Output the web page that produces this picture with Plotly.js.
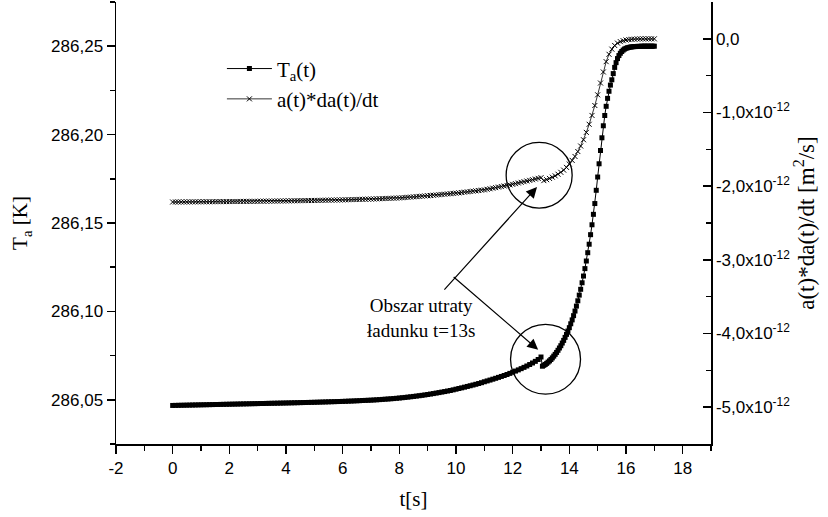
<!DOCTYPE html>
<html>
<head>
<meta charset="utf-8">
<script src="https://cdn.plot.ly/plotly-3.0.1.min.js"></script>
<style>html,body{margin:0;padding:0;background:#fff;}#chart{width:828px;height:517px;}</style>
</head>
<body>
<div id="chart"></div>
<script>
// time samples 0..13 s (step 0.1)
const tEarly = [0,0.1,0.2,0.3,0.4,0.5,0.6,0.7,0.8,0.9,
1,1.1,1.2,1.3,1.4,1.5,1.6,1.7,1.8,1.9,
2,2.1,2.2,2.3,2.4,2.5,2.6,2.7,2.8,2.9,
3,3.1,3.2,3.3,3.4,3.5,3.6,3.7,3.8,3.9,
4,4.1,4.2,4.3,4.4,4.5,4.6,4.7,4.8,4.9,
5,5.1,5.2,5.3,5.4,5.5,5.6,5.7,5.8,5.9,
6,6.1,6.2,6.3,6.4,6.5,6.6,6.7,6.8,6.9,
7,7.1,7.2,7.3,7.4,7.5,7.6,7.7,7.8,7.9,
8,8.1,8.2,8.3,8.4,8.5,8.6,8.7,8.8,8.9,
9,9.1,9.2,9.3,9.4,9.5,9.6,9.7,9.8,9.9,
10,10.1,10.2,10.3,10.4,10.5,10.6,10.7,10.8,10.9,
11,11.1,11.2,11.3,11.4,11.5,11.6,11.7,11.8,11.9,
12,12.1,12.2,12.3,12.4,12.5,12.6,12.7,12.8,12.9,
13];

// T_a late samples 13.05..17 s (step 0.05)
const tLateTa = [13.05,13.1,13.15,13.2,13.25,13.3,13.35,13.4,13.45,13.5,
13.55,13.6,13.65,13.7,13.75,13.8,13.85,13.9,13.95,14,
14.05,14.1,14.15,14.2,14.25,14.3,14.35,14.4,14.45,14.5,
14.55,14.6,14.65,14.7,14.75,14.8,14.85,14.9,14.95,15,
15.05,15.1,15.15,15.2,15.25,15.3,15.35,15.4,15.45,15.5,
15.55,15.6,15.65,15.7,15.75,15.8,15.85,15.9,15.95,16,
16.05,16.1,16.15,16.2,16.25,16.3,16.35,16.4,16.45,16.5,
16.55,16.6,16.65,16.7,16.75,16.8,16.85,16.9,16.95,17];

// rate late samples 13.1..17 s (step 0.1)
const tLateRate = [13.1,13.2,13.3,13.4,13.5,13.6,13.7,13.8,13.9,14,
14.1,14.2,14.3,14.4,14.5,14.6,14.7,14.8,14.9,15,
15.1,15.2,15.3,15.4,15.5,15.6,15.7,15.8,15.9,16,
16.1,16.2,16.3,16.4,16.5,16.6,16.7,16.8,16.9,17];

// T_a [K]
const taEarly = [286.04680,286.04684,286.04687,286.04691,286.04694,286.04698,286.04701,286.04705,286.04708,286.04712,
286.04715,286.04719,286.04722,286.04726,286.04729,286.04733,286.04736,286.04740,286.04743,286.04747,
286.04750,286.04754,286.04757,286.04761,286.04764,286.04768,286.04771,286.04775,286.04778,286.04782,
286.04785,286.04789,286.04792,286.04796,286.04799,286.04803,286.04806,286.04810,286.04813,286.04817,
286.04820,286.04824,286.04828,286.04832,286.04836,286.04840,286.04844,286.04848,286.04852,286.04856,
286.04860,286.04865,286.04870,286.04875,286.04880,286.04885,286.04890,286.04895,286.04900,286.04905,
286.04910,286.04916,286.04923,286.04929,286.04936,286.04944,286.04951,286.04959,286.04966,286.04973,
286.04980,286.04990,286.05000,286.05011,286.05022,286.05034,286.05045,286.05057,286.05070,286.05085,
286.05100,286.05117,286.05134,286.05152,286.05170,286.05190,286.05210,286.05230,286.05252,286.05275,
286.05300,286.05326,286.05352,286.05380,286.05408,286.05437,286.05466,286.05496,286.05527,286.05563,
286.05600,286.05638,286.05676,286.05715,286.05755,286.05795,286.05836,286.05877,286.05920,286.05968,
286.06020,286.06068,286.06116,286.06166,286.06216,286.06268,286.06320,286.06375,286.06432,286.06494,
286.06560,286.06625,286.06692,286.06762,286.06835,286.06912,286.06995,286.07082,286.07175,286.07280,
286.07420];

const taLate = [286.0690,286.0695,286.0700,286.0706,286.0713,286.0720,286.0728,286.0737,286.0747,286.0757,
286.0768,286.0780,286.0793,286.0806,286.0821,286.0836,286.0853,286.0870,286.0889,286.0908,
286.0930,286.0952,286.0976,286.1002,286.1030,286.1060,286.1092,286.1125,286.1162,286.1200,
286.1242,286.1285,286.1332,286.1380,286.1434,286.1490,286.1549,286.1610,286.1685,286.1760,
286.1835,286.1910,286.1982,286.2050,286.2108,286.2160,286.2205,286.2245,286.2280,286.2310,
286.2345,286.2380,286.2407,286.2430,286.2447,286.2460,286.2470,286.2478,286.2484,286.2488,
286.2491,286.2493,286.2495,286.2496,286.2497,286.2498,286.2498,286.2499,286.2499,286.2499,
286.2500,286.2500,286.2500,286.2500,286.2500,286.2500,286.2500,286.2500,286.2500,286.2500];

// a(t)*da(t)/dt in units of 1e-12 m^2/s
const rateEarlyE12 = [-2.2150,-2.2147,-2.2144,-2.2141,-2.2138,-2.2135,-2.2132,-2.2129,-2.2126,-2.2123,
-2.2120,-2.2117,-2.2114,-2.2111,-2.2108,-2.2105,-2.2102,-2.2099,-2.2096,-2.2093,
-2.2090,-2.2086,-2.2082,-2.2078,-2.2074,-2.2070,-2.2066,-2.2062,-2.2058,-2.2054,
-2.2050,-2.2045,-2.2040,-2.2035,-2.2030,-2.2025,-2.2020,-2.2015,-2.2010,-2.2005,
-2.2000,-2.1994,-2.1988,-2.1982,-2.1976,-2.1970,-2.1964,-2.1958,-2.1952,-2.1946,
-2.1940,-2.1932,-2.1924,-2.1916,-2.1908,-2.1900,-2.1892,-2.1884,-2.1876,-2.1868,
-2.1860,-2.1849,-2.1838,-2.1827,-2.1816,-2.1805,-2.1794,-2.1783,-2.1772,-2.1761,
-2.1750,-2.1735,-2.1720,-2.1705,-2.1690,-2.1675,-2.1660,-2.1645,-2.1630,-2.1615,
-2.1600,-2.1570,-2.1540,-2.1510,-2.1480,-2.1450,-2.1420,-2.1390,-2.1360,-2.1330,
-2.1300,-2.1265,-2.1230,-2.1195,-2.1160,-2.1125,-2.1090,-2.1055,-2.1020,-2.0985,
-2.0950,-2.0905,-2.0860,-2.0815,-2.0770,-2.0725,-2.0680,-2.0635,-2.0590,-2.0545,
-2.0500,-2.0425,-2.0350,-2.0275,-2.0200,-2.0125,-2.0050,-1.9975,-1.9900,-1.9825,
-1.9750,-1.9660,-1.9570,-1.9480,-1.9390,-1.9300,-1.9210,-1.9120,-1.9030,-1.8940,
-1.8850];

const rateLateE12 = [-1.925,-1.912,-1.895,-1.878,-1.860,-1.838,-1.812,-1.782,-1.745,-1.700,
-1.650,-1.597,-1.530,-1.455,-1.370,-1.270,-1.160,-1.040,-0.905,-0.760,
-0.600,-0.450,-0.310,-0.210,-0.140,-0.090,-0.058,-0.038,-0.025,-0.016,
-0.010,-0.006,-0.004,-0.002,-0.001,0,0,0,0,0];

// x axis ticks
const xTickVals = [-2,0,2,4,6,8,10,12,14,16,18];
const xTickText = ['-2','0','2','4','6','8','10','12','14','16','18'];
const xMinorVals = [-1,1,3,5,7,9,11,13,15,17,19];

// right axis ticks
const rateTickVals = [0,-1,-2,-3,-4,-5];
const rateTickText = ['0,0','-1,0x10<sup>-12</sup>','-2,0x10<sup>-12</sup>','-3,0x10<sup>-12</sup>','-4,0x10<sup>-12</sup>','-5,0x10<sup>-12</sup>'];
const rateMinorVals = [0.5,-0.5,-1.5,-2.5,-3.5,-4.5,-5.5];

const E12 = 1e-12;
const serif = 'Liberation Serif, Times New Roman, serif';
const sans = 'Liberation Sans, Arial, sans-serif';

const traces = [
  {
    x: tEarly.concat(tLateTa),
    y: taEarly.concat(taLate),
    name: 'T<sub>a</sub>(t)',
    type: 'scatter', mode: 'lines+markers',
    line: {color: 'black', width: 1},
    marker: {symbol: 'square', size: 5, color: 'black'},
    yaxis: 'y'
  },
  {
    x: tEarly.concat(tLateRate),
    y: rateEarlyE12.concat(rateLateE12).map(v => v * E12),
    name: 'a(t)*da(t)/dt',
    type: 'scatter', mode: 'lines+markers',
    line: {color: 'black', width: 0.8},
    marker: {symbol: 'x-thin-open', size: 5, color: 'black', line: {color: 'black', width: 1}},
    yaxis: 'y2'
  }
];

const layout = {
  width: 828, height: 517,
  margin: {l: 116, r: 117, t: 2, b: 73},
  separators: ', ',
  paper_bgcolor: 'white', plot_bgcolor: 'white',
  font: {family: sans, size: 17, color: 'black'},
  showlegend: true,
  legend: {x: 0.178, y: 0.895, xanchor: 'left', yanchor: 'top', bgcolor: 'rgba(0,0,0,0)',
           font: {family: serif, size: 21, color: 'black'}, itemwidth: 45, tracegroupgap: 0},
  xaxis: {
    range: [-2, 19], tickmode: 'array', tickvals: xTickVals, ticktext: xTickText,
    showline: true, linecolor: 'black', linewidth: 1.5, mirror: false,
    ticks: 'outside', ticklen: 8, tickwidth: 1.5, tickcolor: 'black',
    minor: {tickmode: 'array', tickvals: xMinorVals, ticks: 'outside', ticklen: 5, tickwidth: 1.5, tickcolor: 'black', showgrid: false},
    showgrid: false, zeroline: false,
    tickfont: {family: sans, size: 17},
    title: {text: 't[s]', font: {family: serif, size: 21}, standoff: 14}
  },
  yaxis: {
    range: [286.025, 286.275], dtick: 0.05, tick0: 286.05, tickformat: '.2f',
    showline: true, linecolor: 'black', linewidth: 1.5,
    ticks: 'outside', ticklen: 8, tickwidth: 1.5, tickcolor: 'black',
    minor: {dtick: 0.025, tick0: 286.025, ticks: 'outside', ticklen: 5, tickwidth: 1.5, tickcolor: 'black', showgrid: false},
    showgrid: false, zeroline: false,
    tickfont: {family: sans, size: 17},
    title: {text: 'T<sub>a</sub> [K]', font: {family: serif, size: 21}, standoff: 17}
  },
  yaxis2: {
    overlaying: 'y', side: 'right', anchor: 'x',
    range: [-5.5 * E12, 0.5 * E12],
    tickmode: 'array', tickvals: rateTickVals.map(v => v * E12), ticktext: rateTickText,
    showline: true, linecolor: 'black', linewidth: 1.5,
    ticks: 'inside', ticklen: 8, tickwidth: 1.5, tickcolor: 'black',
    minor: {tickmode: 'array', tickvals: rateMinorVals.map(v => v * E12), ticks: 'inside', ticklen: 5, tickwidth: 1.5, tickcolor: 'black', showgrid: false},
    showgrid: false, zeroline: false,
    tickfont: {family: sans, size: 17},
    title: {text: 'a(t)*da(t)/dt [m<sup>2</sup>/s]', font: {family: serif, size: 23}, standoff: 8}
  },
  shapes: [
    {type: 'circle', xref: 'x', yref: 'y', x0: 11.77, x1: 14.1, y0: 286.1584, y1: 286.1956, line: {color: 'black', width: 1.3}},
    {type: 'circle', xref: 'x', yref: 'y', x0: 11.925, x1: 14.395, y0: 286.0532, y1: 286.0927, line: {color: 'black', width: 1.3}}
  ],
  annotations: [
    {x: 8.75, y: 286.0963, xref: 'x', yref: 'y', text: 'Obszar utraty<br>ładunku t=13s', showarrow: false,
     align: 'center', font: {family: serif, size: 19, color: 'black'}},
    {x: 12.86, y: 286.1703, xref: 'x', yref: 'y', text: '', showarrow: true, ax: -94, ay: 104,
     arrowhead: 2, arrowsize: 1.8, arrowwidth: 1.2, arrowcolor: 'black'},
    {x: 12.9, y: 286.0783, xref: 'x', yref: 'y', text: '', showarrow: true, ax: -86, ay: -74,
     arrowhead: 2, arrowsize: 1.8, arrowwidth: 1.2, arrowcolor: 'black'}
  ]
};

Plotly.newPlot('chart', traces, layout, {displayModeBar: false, staticPlot: true});
</script>
</body>
</html>
